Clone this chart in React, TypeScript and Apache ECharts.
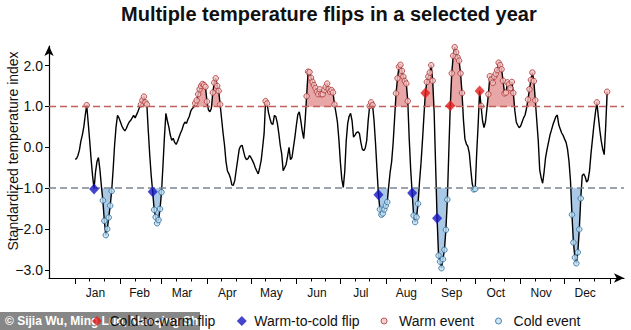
import React, { useEffect, useRef } from 'react';
import * as echarts from 'echarts';

const FONT = '"Liberation Sans", Arial, Helvetica, sans-serif';

const titleText = 'Multiple temperature flips in a selected year';
const yAxisTitle = 'Standardized temperature index';
const monthNames = ['Jan', 'Feb', 'Mar', 'Apr', 'May', 'Jun', 'Jul', 'Aug', 'Sep', 'Oct', 'Nov', 'Dec'];
// day-of-year (0 = 1 Jan) of each month start, plus the start of the next year
const monthStartDays = [0, 31, 59, 90, 120, 151, 181, 212, 243, 273, 304, 334, 365];
// 11th and 21st of every month
const dekadTickDays = [10, 20, 41, 51, 69, 79, 100, 110, 130, 140, 161, 171, 191, 201, 222, 232, 253, 263, 283, 293, 314, 324, 344, 354];
// mid-month label positions
const monthLabelDays = [14, 44, 73, 104, 134, 165, 195, 226, 257, 287, 318, 348];
const yTickValues = [-3, -2, -1, 0, 1, 2];
const warmThreshold = 1;
const coldThreshold = -1;

// daily standardized temperature index, day 0 = 1 Jan
const temps = [
  -0.29, -0.28, -0.20, -0.07, 0.15, 0.30, 0.50, 0.79, 1.03, 0.60,
  0.17, -0.30, -0.70, -1.02, -0.60, -0.35, -0.25, -0.55, -0.95, -1.30,
  -1.80, -2.15, -2.00, -1.72, -1.43, -1.07, -0.55, 0.05, 0.50, 0.78,
  0.72, 0.62, 0.52, 0.45, 0.40, 0.46, 0.55, 0.62, 0.66, 0.72,
  0.78, 0.72, 0.80, 0.88, 0.98, 1.05, 1.15, 1.24, 1.10, 1.05,
  0.40, -0.20, -0.70, -1.09, -1.53, -1.71, -1.86, -1.78, -1.51, -1.10,
  -0.45, 0.25, 0.83, 0.65, 0.50, 0.30, 0.17, 0.22, 0.12, 0.07,
  0.15, 0.25, 0.35, 0.43, 0.55, 0.62, 0.58, 0.68, 0.76, 0.89,
  0.95, 0.98, 1.08, 1.15, 1.30, 1.42, 1.50, 1.55, 1.52, 1.48,
  1.12, 0.92, 0.87, 0.95, 1.34, 1.58, 1.69, 1.50, 1.38, 1.05,
  0.70, 0.35, 0.05, -0.35, -0.58, -0.65, -0.75, -0.92, -0.93, -0.81,
  -0.55, -0.30, -0.05, 0.03, 0.05, -0.10, -0.24, -0.30, -0.28, -0.20,
  -0.25, -0.32, -0.40, -0.50, -0.58, -0.65, -0.50, -0.32, 0.00, 0.34,
  1.13, 1.07, 0.85, 0.70, 0.58, 0.56, 0.78, 0.75, 0.60, 0.35,
  0.05, -0.16, -0.57, -0.50, -0.42, -0.22, 0.00, -0.30, -0.25, 0.00,
  0.25, 0.54, 0.80, 0.87, 0.66, 0.40, 0.21, 0.66, 1.25, 1.85,
  1.84, 1.70, 1.60, 1.52, 1.45, 1.36, 1.30, 1.42, 1.30, 1.30,
  1.40, 1.48, 1.56, 1.42, 1.36, 1.40, 1.34, 1.05, 0.85, 0.62,
  0.20, -0.35, -0.78, -0.98, -0.60, 0.15, 0.58, 0.76, 0.83, 0.65,
  0.25, 0.30, 0.36, 0.38, 0.34, 0.12, -0.05, -0.08, -0.02, 0.17,
  0.66, 1.01, 1.10, 1.03, 0.65, 0.10, -0.55, -1.16, -1.52, -1.65,
  -1.62, -1.52, -1.43, -1.34, -0.95, -0.60, -0.35, 0.10, 0.70, 1.32,
  1.69, 1.97, 2.02, 1.87, 1.73, 1.62, 1.56, 1.13, 0.20, -0.55,
  -1.12, -1.67, -1.83, -1.71, -1.38, -0.85, -0.40, 0.15, 0.75, 1.33,
  1.60, 1.73, 1.83, 2.01, 1.63, 0.85, -0.45, -1.74, -2.65, -2.80,
  -2.96, -2.74, -2.51, -2.02, -1.28, -0.10, 1.02, 1.81, 2.24, 2.45,
  2.33, 2.20, 2.12, 1.81, 1.33, 0.66, 0.20, 0.08, 0.02, -0.15,
  -0.55, -0.90, -1.03, -1.02, -0.15, 0.55, 1.38, 1.01, 0.65, 0.48,
  0.62, 0.95, 1.30, 1.74, 1.66, 1.58, 1.73, 1.80, 1.89, 2.07,
  2.01, 1.91, 1.63, 1.32, 1.34, 1.59, 1.54, 1.45, 1.60, 1.33,
  0.91, 0.62, 0.54, 0.48, 0.52, 0.62, 0.72, 0.79, 0.95, 1.17,
  1.42, 1.65, 1.83, 1.62, 1.15, 0.65, 0.17, -0.55, -0.75, -0.88,
  -0.60, -0.25, -0.05, 0.12, 0.30, 0.42, 0.55, 0.65, 0.75, 0.79,
  0.55, 0.45, 0.35, 0.29, 0.20, 0.12, -0.05, -0.35, -0.82, -1.65,
  -2.33, -2.70, -2.84, -2.57, -2.01, -1.25, -0.69, -0.65, -0.72, -0.85,
  -0.80, -0.57, -0.15, 0.20, 0.55, 0.85, 1.10, 0.75, 0.42, 0.15,
  -0.05, -0.18, 0.50, 1.36,
];

const warmEventDays = [
  8,
  45, 46, 47, 48, 49,
  82, 83, 84, 85, 86, 87, 88, 89, 90,
  94, 95, 96, 97, 98, 99,
  130, 131,
  158, 159, 160, 161, 162, 163, 164, 165, 166, 167, 168, 169, 170, 171, 172, 173, 174, 175, 176, 177,
  201, 202, 203,
  219, 220, 221, 222, 223, 224, 225, 226, 227,
  240, 241, 242, 243, 244,
  257, 258, 259, 260, 261, 262, 263, 264,
  277,
  282, 283, 284, 285, 286, 287, 288, 289, 290, 291, 292, 293, 294, 295, 296, 297, 298, 299,
  309, 310, 311, 312, 313, 314,
  356, 363,
];
const coldEventDays = [
  19, 20, 21, 22, 23, 24, 25,
  54, 55, 56, 57, 58, 59,
  208, 209, 210, 211, 212, 213,
  231, 232, 233, 234,
  248, 249, 250, 251, 252, 253, 254,
  272, 273,
  339, 340, 341, 342, 343, 344, 345,
];
const coldToWarmDays = [239, 256, 276];
const warmToColdDays = [13, 53, 207, 230, 247];

const WARM_FILL = '#e9a6a6';
const COLD_FILL = '#a9c9e6';
const WARM_DOT = '#f8c4c4';
const WARM_DOT_EDGE = '#a83434';
const COLD_DOT = '#c2e2f6';
const COLD_DOT_EDGE = '#2c6898';
const RED_DIAMOND = '#e41b1b';
const BLUE_DIAMOND = '#1515c2';

const DIAMOND_ICON = 'path://M0,0M20,12M12.5,1L17.5,6L12.5,11L7.5,6Z';
const CIRCLE_ICON = 'path://M0,0M20,12M7,6A3,3,0,1,1,13,6A3,3,0,1,1,7,6Z';

const lineData = temps.map((v, i) => [i, v]);
const pick = (days: number[]) => days.map((d) => [d, temps[d]]);

// Regions between the curve and a threshold (polygons in data coordinates).
function exceedRegions(values: number[], t: number, above: boolean): number[][][] {
  const out = (v: number) => (above ? v > t : v < t);
  const regions: number[][][] = [];
  let cur: number[][] | null = null;
  for (let i = 0; i < values.length; i++) {
    const v = values[i];
    if (out(v)) {
      if (!cur) {
        cur = [];
        if (i > 0) {
          const p = values[i - 1];
          const xc = i - 1 + (t - p) / (v - p);
          cur.push([xc, t]);
        } else {
          cur.push([i, t]);
        }
      }
      cur.push([i, v]);
    } else if (cur) {
      const p = values[i - 1];
      const xc = i - 1 + (t - p) / (v - p);
      cur.push([xc, t]);
      regions.push(cur);
      cur = null;
    }
  }
  if (cur) {
    cur.push([values.length - 1, t]);
    regions.push(cur);
  }
  return regions;
}

const warmRegions = exceedRegions(temps, warmThreshold, true);
const coldRegions = exceedRegions(temps, coldThreshold, false);

const X_MIN = -17.74;
const X_MAX = 374.5;

function regionSeries(name: string, regions: number[][][], fill: string) {
  return {
    name,
    type: 'custom',
    silent: true,
    z: 1,
    clip: true,
    encode: { x: 0, y: 1 },
    data: regions.map((r) => [r[0][0], r[0][1]]),
    renderItem: (params: any, api: any) => {
      const region = regions[params.dataIndex];
      const points = region.map((p) => api.coord(p));
      return {
        type: 'polygon',
        shape: { points },
        style: { fill, stroke: fill, lineWidth: 0.4 },
      };
    },
  };
}

function buildOption(): any {
  const fmtY = (v: number) => (v < 0 ? '\u2212' + Math.abs(v).toFixed(1) : v.toFixed(1));
  return {
    animation: false,
    backgroundColor: '#ffffff',
    textStyle: { fontFamily: FONT },
    title: {
      text: titleText,
      left: 121,
      top: 4,
      padding: 0,
      textStyle: { fontSize: 20, fontWeight: 'bold', color: '#111', fontFamily: FONT },
    },
    grid: { left: 49, right: 7, top: 46, bottom: 52, containLabel: false, outerBoundsMode: 'none' },
    xAxis: [
      {
        type: 'value',
        min: X_MIN,
        max: X_MAX,
        position: 'bottom',
        axisLine: {
          show: true,
          onZero: false,
          symbol: ['none', 'arrow'],
          symbolSize: [7, 10],
          lineStyle: { color: '#000', width: 1.2 },
        },
        axisTick: {
          show: true,
          customValues: monthStartDays,
          length: 6,
          lineStyle: { color: '#000', width: 1 },
        },
        axisLabel: {
          show: true,
          customValues: monthLabelDays,
          margin: 9,
          fontSize: 12,
          color: '#111',
          fontFamily: FONT,
          formatter: (v: number) => monthNames[monthLabelDays.indexOf(v)] || '',
        },
        splitLine: { show: false },
      },
      {
        type: 'value',
        min: X_MIN,
        max: X_MAX,
        position: 'bottom',
        axisLine: { show: false, onZero: false },
        axisTick: {
          show: true,
          customValues: dekadTickDays,
          length: 3.5,
          lineStyle: { color: '#000', width: 1 },
        },
        axisLabel: { show: false },
        splitLine: { show: false },
      },
    ],
    yAxis: {
      type: 'value',
      min: -3.2,
      max: 2.48,
      axisLine: {
        show: true,
        onZero: false,
        symbol: ['none', 'arrow'],
        symbolSize: [7, 10],
        lineStyle: { color: '#000', width: 1.2 },
      },
      axisTick: { show: true, customValues: yTickValues, length: 4, lineStyle: { color: '#000' } },
      axisLabel: {
        show: true,
        customValues: yTickValues,
        margin: 6,
        fontSize: 14,
        color: '#111',
        fontFamily: FONT,
        formatter: fmtY,
      },
      splitLine: { show: false },
    },
    legend: {
      left: 84.5,
      top: 314,
      padding: 0,
      itemWidth: 20,
      itemHeight: 12,
      itemGap: 14,
      selectedMode: false,
      textStyle: { fontSize: 14, color: '#111', fontFamily: FONT },
      data: [
        { name: 'Cold-to-warm flip', icon: DIAMOND_ICON, itemStyle: { color: RED_DIAMOND, borderWidth: 0 } },
        { name: 'Warm-to-cold flip', icon: DIAMOND_ICON, itemStyle: { color: BLUE_DIAMOND, borderWidth: 0 } },
        { name: 'Warm event', icon: CIRCLE_ICON, itemStyle: { color: WARM_DOT, borderColor: WARM_DOT_EDGE, borderWidth: 1 } },
        { name: 'Cold event', icon: CIRCLE_ICON, itemStyle: { color: COLD_DOT, borderColor: COLD_DOT_EDGE, borderWidth: 1 } },
      ],
    },
    series: [
      regionSeries('warm area', warmRegions, WARM_FILL),
      regionSeries('cold area', coldRegions, COLD_FILL),
      {
        name: 'index',
        type: 'line',
        data: lineData,
        symbol: 'none',
        silent: true,
        z: 3,
        lineStyle: { color: '#000', width: 1.4 },
        markLine: {
          silent: true,
          symbol: 'none',
          label: { show: false },
          data: [
            { yAxis: warmThreshold, lineStyle: { color: '#c2605e', type: [7, 4], width: 1.3 } },
            { yAxis: coldThreshold, lineStyle: { color: '#7b8691', type: [7, 4], width: 1.6 } },
          ],
        },
      },
      {
        name: 'Warm event',
        type: 'scatter',
        data: pick(warmEventDays),
        symbol: 'circle',
        symbolSize: 5.5,
        z: 4,
        itemStyle: { color: WARM_DOT, borderColor: WARM_DOT_EDGE, borderWidth: 1 },
      },
      {
        name: 'Cold event',
        type: 'scatter',
        data: pick(coldEventDays),
        symbol: 'circle',
        symbolSize: 5.5,
        z: 4,
        itemStyle: { color: COLD_DOT, borderColor: COLD_DOT_EDGE, borderWidth: 1 },
      },
      {
        name: 'Cold-to-warm flip',
        type: 'scatter',
        data: pick(coldToWarmDays),
        symbol: 'diamond',
        symbolSize: [10, 11],
        z: 5,
        itemStyle: { color: RED_DIAMOND },
      },
      {
        name: 'Warm-to-cold flip',
        type: 'scatter',
        data: pick(warmToColdDays),
        symbol: 'diamond',
        symbolSize: [10, 11],
        z: 5,
        itemStyle: { color: BLUE_DIAMOND },
      },
    ],
    graphic: [
      {
        type: 'text',
        x: 13,
        y: 151,
        rotation: Math.PI / 2,
        style: {
          text: yAxisTitle,
          fill: '#111',
          font: '14px ' + FONT,
          align: 'center',
          verticalAlign: 'middle',
        },
      },
      {
        type: 'group',
        z: 100,
        children: [
          { type: 'rect', shape: { x: 0, y: 312, width: 200, height: 18 }, style: { fill: 'rgba(105,105,105,0.8)' } },
          {
            type: 'text',
            x: 5,
            y: 321,
            style: {
              text: '\u00a9 Sijia Wu, Ming Luo, Manqing Shi',
              fill: '#ffffff',
              font: 'bold 12px ' + FONT,
              verticalAlign: 'middle',
            },
          },
        ],
      },
    ],
  };
}

export default function App() {
  const ref = useRef<HTMLDivElement>(null);
  useEffect(() => {
    if (!ref.current) return;
    const chart = echarts.init(ref.current, null, { renderer: 'svg' });
    chart.setOption(buildOption());
    return () => chart.dispose();
  }, []);
  return (
    <div
      ref={ref}
      style={{ position: 'absolute', left: 0, top: 0, width: 631, height: 330, background: '#fff' }}
    />
  );
}
